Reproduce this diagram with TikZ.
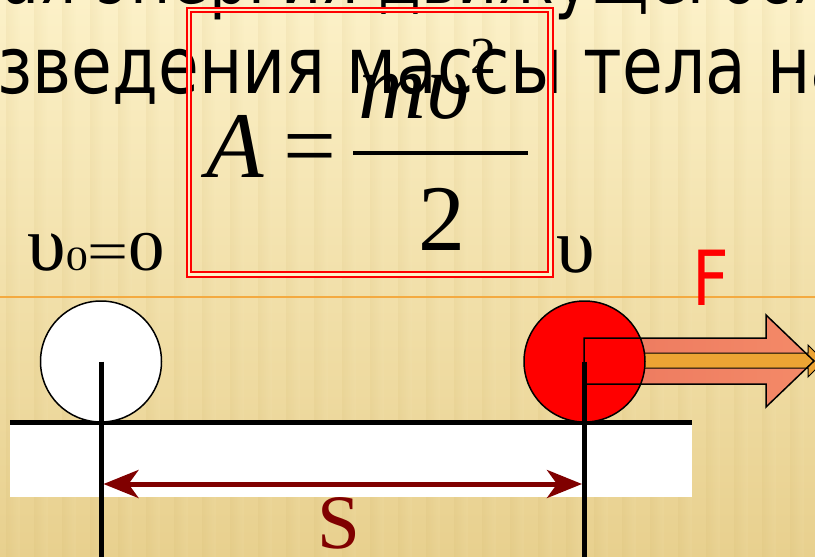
\documentclass[tikz,border=0pt]{standalone}
\usepackage{fontspec}
\usepackage{graphicx}
\setmainfont{Liberation Serif}
\newfontfamily\slidefont[FakeStretch=0.84]{DejaVu Sans}
\newfontfamily\larges[FakeStretch=1.3]{Liberation Serif}
\usepackage{tikz}
\usetikzlibrary{arrows.meta,positioning}
\definecolor{rougeVif}{RGB}{255,0,0}
\definecolor{bordeaux}{RGB}{128,0,0}
\definecolor{orangeTrait}{RGB}{244,170,64}
\definecolor{saumonFonce}{RGB}{236,120,94}
\definecolor{saumonClair}{RGB}{244,138,104}
\definecolor{orangeFleche}{RGB}{236,164,52}
\definecolor{fondHaut}{RGB}{252,241,200}
\definecolor{fondBas}{RGB}{232,208,142}
\definecolor{fondRaie}{RGB}{200,170,90}

\begin{document}
\begin{tikzpicture}[x=1pt, y=-1pt,
  texte/.style={inner sep=0pt, anchor=base west},
  boule/.style={circle, draw=black, line width=1.5pt, minimum size=121pt, inner sep=0pt},
  poteau/.style={line width=5pt}]

\useasboundingbox (0,0) rectangle (815,557);
\clip (0,0) rectangle (815,557);
\shade[top color=fondHaut, bottom color=fondBas] (0,0) rectangle (815,557);
\foreach \x in {6,34,...,815}
  \shade[left color=fondRaie, right color=fondHaut, opacity=0.1] (\x,0) rectangle ++(14,557);

% texte du diapo, coupe en haut
\node[texte, font=\slidefont\fontsize{79}{95}\selectfont] (ligneHaut) at (1,3) {\scalebox{0.935}[1]{ая энергия движущегося}};
\node[texte, font=\slidefont\fontsize{79}{95}\selectfont] (ligneBas) at (-3,93) {зведения массы тела на};

% cadre de la formule
\draw[rougeVif, line width=2pt, double=fondHaut, double distance=2.5pt] (189,10) rectangle (550.5,274.5);
\node[texte, font=\itshape\fontsize{94}{94}\selectfont] (travail) at (206,177) {A};
\node[texte, font=\fontsize{94}{94}\selectfont] (egal) at (283,177) {=};
\draw[line width=4pt] (353,153) -- (528,153);
\node[texte, font=\itshape\fontsize{94}{94}\selectfont] (numer) at (358,118) {mυ};
\node[texte, font=\fontsize{52}{52}\selectfont] (carre) at (470,73) {2};
\node[texte, font=\fontsize{94}{94}\selectfont] (denom) at (418,250) {2};

% vitesses et force
\node[texte, font=\larges\fontsize{56}{56}\selectfont] (vitesse0) at (27,270) {{\rmfamily\fontsize{78}{78}\selectfont υ}{\fontsize{34}{34}\selectfont 0}=0};
\node[texte, font=\fontsize{78}{78}\selectfont] (vitesse) at (556,272) {υ};
\draw[orangeTrait, line width=1.5pt] (0,297) -- (815,297);
\node[texte, font=\slidefont\fontsize{76}{76}\selectfont, text=rougeVif] (force) at (692,305) {F};

% table
\fill[white] (10,425) rectangle (692,497);
\draw[line width=5pt] (10,422.5) -- (692,422.5);

% fleche de la force
\shade[left color=saumonFonce, right color=saumonClair] (584,338) -- (766,338) -- (766,315) -- (814,361)
  -- (766,407) -- (766,384) -- (584,384) -- cycle;
\draw[fill=orangeFleche, line width=1pt] (640,353) -- (808,353) -- (808,345) -- (824,361)
  -- (808,377) -- (808,368) -- (640,368) -- cycle;

% boules
\node[boule, fill=white] (boule0) at (101,361.5) {};
\node[boule, fill=rougeVif] (boule1) at (584.5,361.5) {};
\draw[line width=1.5pt] (584,338) -- (766,338) -- (766,315) -- (814,361)
  -- (766,407) -- (766,384) -- (584,384) -- cycle;

% poteaux et distance
\coordinate (pied0) at (101,557);
\coordinate (pied1) at (584.5,557);
\draw[poteau] (boule0.center) -- (pied0);
\draw[poteau] (boule1.center) -- (pied1);
\coordinate (s0) at (103.5,484);
\coordinate (s1) at (582,484);
\draw[bordeaux, line width=5pt, {Stealth[length=35pt, width=28pt, inset=10pt]}-{Stealth[length=35pt, width=28pt, inset=10pt]}] (s0) -- (s1);
\node[texte, font=\fontsize{77}{77}\selectfont, text=bordeaux] (distance) at (317,548) {S};

\end{tikzpicture}
\end{document}
